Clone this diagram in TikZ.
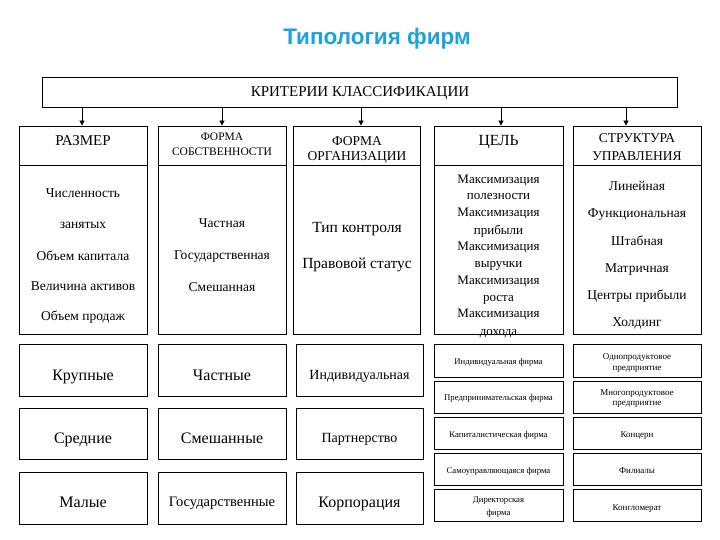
\documentclass[tikz,border=0pt]{standalone}
\usepackage{fontspec}
\setmainfont{Liberation Serif}
\newfontfamily\ttlfont{Liberation Sans}
\usetikzlibrary{arrows.meta}
\definecolor{ttlblue}{RGB}{28,162,220}
\newcommand\fsz[1]{\fontsize{#1pt}{#1pt}\selectfont}
\begin{document}
\begin{tikzpicture}[x=1pt,y=-1pt,
  box/.style={draw, line width=0.8pt, inner sep=0pt},
  tx/.style={anchor=base, inner sep=0pt},
  arr/.style={-{Triangle[length=5pt,width=5pt]}, line width=0.8pt}]
\useasboundingbox (0,0) rectangle (720,540);

% title
\node[tx, font=\ttlfont\bfseries\fsz{22.5}, text=ttlblue] (title) at (377,44.5) {Типология фирм};

% top box
\node[box, minimum width=635pt, minimum height=30pt] (top) at (359.5,92) {};
\node[tx, font=\fsz{15}] (topt) at (360,96.5) {КРИТЕРИИ КЛАССИФИКАЦИИ};

% column headers and bodies
\node[box, minimum width=128pt, minimum height=39pt] (h1) at (83,145.5) {};
\node[box, minimum width=128pt, minimum height=169pt] (b1) at (83,249.5) {};
\node[box, minimum width=128pt, minimum height=39pt] (h2) at (222,145.5) {};
\node[box, minimum width=128pt, minimum height=169pt] (b2) at (222,249.5) {};
\node[box, minimum width=127pt, minimum height=39pt] (h3) at (357,145.5) {};
\node[box, minimum width=127pt, minimum height=169pt] (b3) at (357,249.5) {};
\node[box, minimum width=129pt, minimum height=39pt] (h4) at (498.5,145.5) {};
\node[box, minimum width=129pt, minimum height=169pt] (b4) at (498.5,249.5) {};
\node[box, minimum width=128pt, minimum height=39pt] (h5) at (637,145.5) {};
\node[box, minimum width=128pt, minimum height=169pt] (b5) at (637,249.5) {};

% arrows
\draw[arr] ([xshift=-1pt]h1.north |- top.south) -- ([xshift=-1pt]h1.north);
\draw[arr] (h2.north |- top.south) -- (h2.north);
\draw[arr] ([xshift=4pt]h3.north |- top.south) -- ([xshift=4pt]h3.north);
\draw[arr] ([xshift=2.5pt]h4.north |- top.south) -- ([xshift=2.5pt]h4.north);
\draw[arr] ([xshift=-11pt]h5.north |- top.south) -- ([xshift=-11pt]h5.north);

% header texts
\node[tx, font=\fsz{15}] (h1t) at (83,146) {РАЗМЕР};
\node[tx, font=\fsz{11.5}] (h2ta) at (222,141) {ФОРМА};
\node[tx, font=\fsz{11.5}] (h2tb) at (222,156) {СОБСТВЕННОСТИ};
\node[tx, font=\fsz{13.5}] (h3ta) at (357,146) {ФОРМА};
\node[tx, font=\fsz{13.5}] (h3tb) at (357,161) {ОРГАНИЗАЦИИ};
\node[tx, font=\fsz{15.5}] (h4t) at (498.5,146) {ЦЕЛЬ};
\node[tx, font=\fsz{13.5}] (h5ta) at (637,143) {СТРУКТУРА};
\node[tx, font=\fsz{13.5}] (h5tb) at (637,161) {УПРАВЛЕНИЯ};

% body texts
\foreach \y/\t [count=\i] in {198/Численность, 229/занятых, 260/Объем капитала, 290/Величина активов, 320/Объем продаж}
  \node[tx, font=\fsz{13.5}] (b1t\i) at (83,\y) {\t};
\foreach \y/\t [count=\i] in {227/Частная, 259/Государственная, 291/Смешанная}
  \node[tx, font=\fsz{13.5}] (b2t\i) at (222,\y) {\t};
\foreach \y/\t [count=\i] in {233/Тип контроля, 268/Правовой статус}
  \node[tx, font=\fsz{15.5}] (b3t\i) at (357,\y) {\t};
\foreach \y/\t [count=\i] in {184/Максимизация, 200/полезности, 217/Максимизация, 234/прибыли, 250/Максимизация, 267/выручки, 284/Максимизация, 301/роста, 317/Максимизация, 335/дохода}
  \node[tx, font=\fsz{13}] (b4t\i) at (498.5,\y) {\t};
\foreach \y/\t [count=\i] in {191/Линейная, 218/Функциональная, 245/Штабная, 272/Матричная, 299/Центры прибыли, 326/Холдинг}
  \node[tx, font=\fsz{13.5}] (b5t\i) at (637,\y) {\t};

% lower three columns
\node[box, minimum width=128pt, minimum height=52pt] (k1) at (83,370) {};
\node[box, minimum width=128pt, minimum height=51pt] (k2) at (83,433.5) {};
\node[box, minimum width=128pt, minimum height=52pt] (k3) at (83,498) {};
\node[box, minimum width=128pt, minimum height=52pt] (s1) at (222,370) {};
\node[box, minimum width=128pt, minimum height=51pt] (s2) at (222,433.5) {};
\node[box, minimum width=128pt, minimum height=52pt] (s3) at (222,498) {};
\node[box, minimum width=127pt, minimum height=52pt] (o1) at (359.5,370) {};
\node[box, minimum width=127pt, minimum height=51pt] (o2) at (359.5,433.5) {};
\node[box, minimum width=127pt, minimum height=52pt] (o3) at (359.5,498) {};

\node[tx, font=\fsz{16}] (k1t) at (83,380) {Крупные};
\node[tx, font=\fsz{16}] (k2t) at (83,443) {Средние};
\node[tx, font=\fsz{16}] (k3t) at (83,507) {Малые};
\node[tx, font=\fsz{16}] (s1t) at (222,380) {Частные};
\node[tx, font=\fsz{16}] (s2t) at (222,443) {Смешанные};
\node[tx, font=\fsz{14.5}] (s3t) at (222,506) {Государственные};
\node[tx, font=\fsz{14}] (o1t) at (359.5,379) {Индивидуальная};
\node[tx, font=\fsz{14}] (o2t) at (359.5,442) {Партнерство};
\node[tx, font=\fsz{16}] (o3t) at (359.5,507) {Корпорация};

% lower right two columns
\foreach \y/\h [count=\i] in {360.5/33, 397/32, 433/32, 469/32, 505/32} {
  \node[box, minimum width=129pt, minimum height=\h pt] (g\i) at (498.5,\y) {};
  \node[box, minimum width=128pt, minimum height=\h pt] (u\i) at (637,\y) {};
}
\node[tx, font=\fsz{8.7}] (g1t) at (498.5,364) {Индивидуальная фирма};
\node[tx, font=\fsz{8.7}] (g2t) at (498.5,400) {Предпринимательская фирма};
\node[tx, font=\fsz{8.7}] (g3t) at (498.5,437) {Капиталистическая фирма};
\node[tx, font=\fsz{8.7}] (g4t) at (498.5,473) {Самоуправляющаяся фирма};
\node[tx, font=\fsz{8.7}] (g5ta) at (498.5,502) {Директорская};
\node[tx, font=\fsz{8.7}] (g5tb) at (498.5,515) {фирма};
\node[tx, font=\fsz{9}] (u1ta) at (637,359) {Однопродуктовое};
\node[tx, font=\fsz{9}] (u1tb) at (637,370) {предприятие};
\node[tx, font=\fsz{9}] (u2ta) at (637,395) {Многопродуктовое};
\node[tx, font=\fsz{9}] (u2tb) at (637,405) {предприятие};
\node[tx, font=\fsz{9}] (u3t) at (637,437) {Концерн};
\node[tx, font=\fsz{9}] (u4t) at (637,473) {Филиалы};
\node[tx, font=\fsz{9}] (u5t) at (637,510) {Конгломерат};
\end{tikzpicture}
\end{document}
